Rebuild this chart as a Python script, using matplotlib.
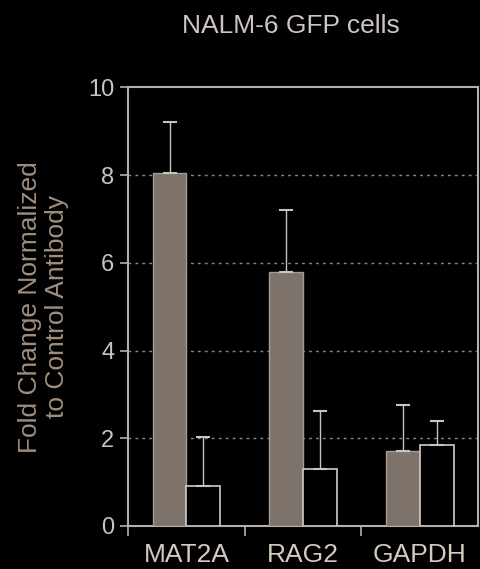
import numpy as np
import matplotlib
matplotlib.use('Agg')
import matplotlib.pyplot as plt

genes = ['MAT2A', 'RAG2', 'GAPDH']
gfp_mean = [8.05, 5.8, 1.71]
gfp_err = [1.15, 1.4, 1.05]
ctrl_mean = [0.91, 1.3, 1.84]
ctrl_err = [1.12, 1.32, 0.55]

plt.rcParams['font.family'] = ['Liberation Sans', 'DejaVu Sans']

fig = plt.figure(figsize=(4.8, 5.69), dpi=100, facecolor='black')
ax = fig.add_axes([0.267, 0.0756, 0.729, 0.771], facecolor='black')

x = np.arange(len(genes))
w = 0.29
spine_col = '#b4b0ac'
ax.bar(x - w / 2, gfp_mean, w, color='#7d736b', edgecolor='#a49c94', linewidth=1, zorder=3)
ax.bar(x + w / 2, ctrl_mean, w, color='black', edgecolor='#d0ccc8', linewidth=1.2, zorder=3)
ax.errorbar(x - w / 2, gfp_mean, yerr=[np.zeros(3), gfp_err], fmt='none',
            ecolor='#c8c4c0', elinewidth=1, capsize=5, capthick=1.5, zorder=4)
ax.errorbar(x + w / 2, ctrl_mean, yerr=[np.zeros(3), ctrl_err], fmt='none',
            ecolor='#c8c4c0', elinewidth=1, capsize=5, capthick=1.5, zorder=4)

ax.set_xlim(-0.5, 2.5)
ax.set_ylim(0, 10)
ax.set_yticks([0, 2, 4, 6, 8, 10])
for yv in [2, 4, 6, 8]:
    ax.axhline(yv, color='#8a8a8a', linestyle=(0, (2, 3)), linewidth=1, zorder=1)

ax.set_xticks([-0.5, 0.5, 1.5], minor=False)
ax.set_xticklabels([])
ax.set_xticks(x, minor=True)
ax.set_xticklabels(genes, minor=True, fontsize=19, color='#d4cabe')
ax.tick_params(axis='x', which='minor', length=0, pad=12)
ax.tick_params(axis='x', which='major', length=7, color=spine_col, width=1.2)
ax.tick_params(axis='y', length=6, color=spine_col, width=1.2, labelsize=17,
               labelcolor='#c8c4c0', pad=4)

for s in ax.spines.values():
    s.set_color(spine_col)
    s.set_linewidth(1.5)

ax.set_ylabel('Fold Change Normalized\nto Control Antibody', fontsize=19,
              color='#a08e7e', labelpad=14, linespacing=1.15)
fig.text(0.605, 0.955, 'NALM-6 GFP cells', fontsize=19, color='#ccc4c4',
         ha='center', va='center')

fig.savefig('out.png', dpi=100, facecolor='black')
